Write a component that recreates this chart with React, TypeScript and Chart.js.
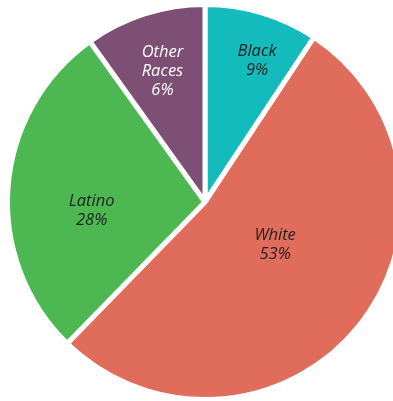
import React, { useEffect, useRef } from "react";
import { Chart, registerables } from "chart.js";

Chart.register(...registerables);

const categories = ["Black", "White", "Latino", "Other Races"];
const sliceShares = [9.3, 53, 27.8, 9.9];
const percentLabels = ["9%", "53%", "28%", "6%"];
const sliceColors = ["#14BBBD", "#E06C5B", "#4DB852", "#7E4F74"];
const labelColors = ["#231F20", "#231F20", "#231F20", "#FFFFFF"];
// label placement: [angle from 12 o'clock (deg, clockwise), fraction of radius]
const labelPlacement: [number, number][] = [
  [20, 0.77],
  [120, 0.41],
  [266.5, 0.575],
  [-17.8, 0.705],
];

const labelPlugin = {
  id: "sliceLabels",
  afterDatasetsDraw(chart: any) {
    const ctx = chart.ctx;
    const meta = chart.getDatasetMeta(0);
    ctx.save();
    ctx.font = "italic 16.5px 'Open Sans', 'Noto Sans', sans-serif";
    ctx.textAlign = "center";
    ctx.textBaseline = "middle";
    meta.data.forEach((arc: any, i: number) => {
      const { x, y, outerRadius } = arc.getProps(["x", "y", "outerRadius"], true);
      const [deg, frac] = labelPlacement[i];
      const a = (deg * Math.PI) / 180;
      const cx = x + Math.sin(a) * outerRadius * frac;
      const cy = y - Math.cos(a) * outerRadius * frac + 2;
      const lines = categories[i].split(" ").concat(percentLabels[i]);
      const lh = 19;
      const start = cy - ((lines.length - 1) * lh) / 2;
      ctx.fillStyle = labelColors[i];
      lines.forEach((t: string, k: number) => ctx.fillText(t, cx, start + k * lh));
    });
    ctx.restore();
  },
};

export default function App() {
  const ref = useRef<HTMLCanvasElement | null>(null);
  useEffect(() => {
    if (!ref.current) return;
    const chart = new Chart(ref.current, {
      type: "pie",
      data: {
        labels: categories,
        datasets: [
          {
            data: sliceShares,
            backgroundColor: sliceColors,
            borderColor: "#FFFFFF",
            borderWidth: 5,
            hoverBorderWidth: 5,
          },
        ],
      },
      options: {
        responsive: false,
        animation: false,
        radius: 197.5,
        layout: { padding: 0 },
        plugins: { legend: { display: false }, tooltip: { enabled: false } },
        events: [],
      } as any,
      plugins: [labelPlugin],
    });
    return () => chart.destroy();
  }, []);
  return (
    <div
      style={{
        position: "fixed",
        left: 0,
        top: 0,
        width: 393,
        height: 401,
        overflow: "hidden",
        background: "#FFFFFF",
      }}
    >
      <canvas ref={ref} width={410} height={404} style={{ width: 410, height: 404, display: "block" }} />
    </div>
  );
}
